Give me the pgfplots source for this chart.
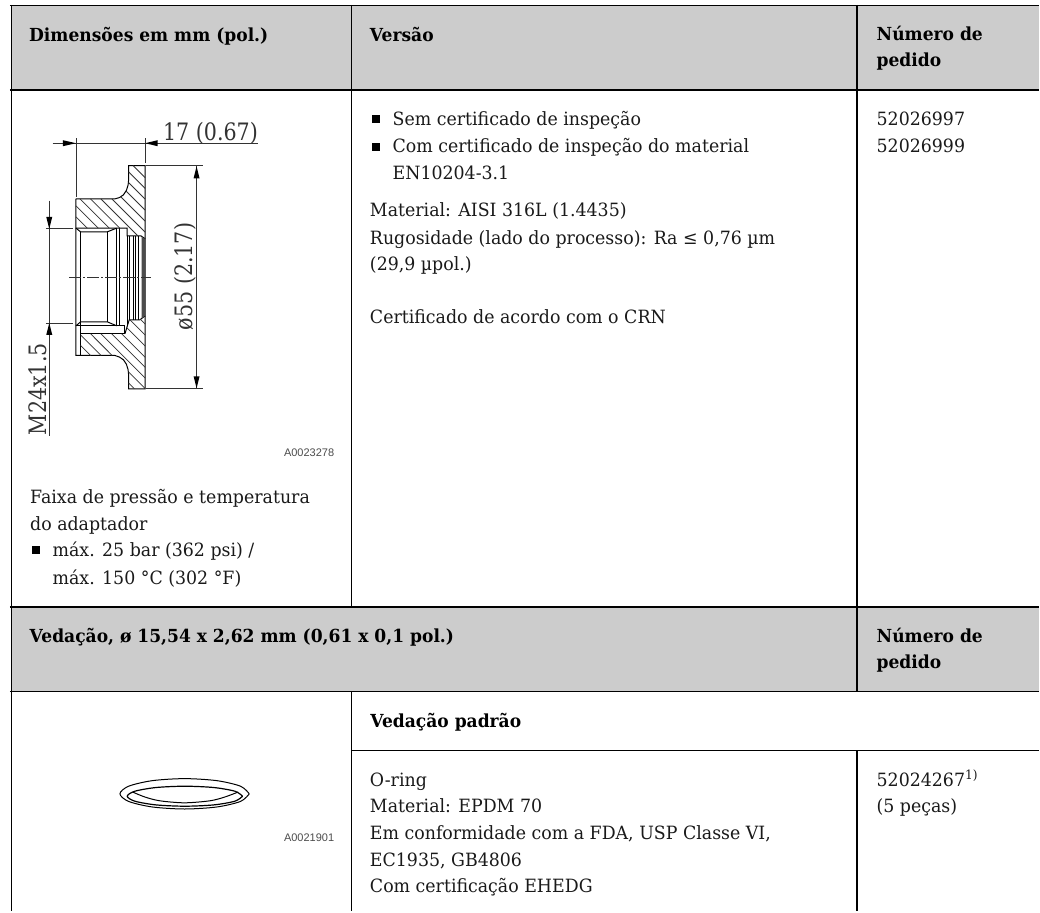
\documentclass[border=0pt]{standalone}
\usepackage{pgfplots}
\pgfplotsset{compat=1.18}
\usepackage{fontspec}
\setmainfont[FakeStretch=0.95]{DejaVu Serif}
\newfontfamily\dimf[FakeStretch=0.86]{DejaVu Serif}
\newfontfamily\smallsans{Liberation Sans}
\definecolor{band}{HTML}{CCCCCC}
\definecolor{ink}{HTML}{1A1A1A}
\newcommand{\T}[3]{\node[anchor=base west,inner sep=0pt,text=ink,font=\fontsize{18.3}{21}\selectfont] at (axis cs:#1,#2) {#3};}
\newcommand{\B}[3]{\node[anchor=base west,inner sep=0pt,text=black,font=\fontsize{18.0}{21}\selectfont\bfseries] at (axis cs:#1,#2) {#3};}
\newcommand{\Ln}[1]{\addplot[black,line width=1pt] coordinates {#1};}
\newcommand{\Tb}[1]{\addplot[black,line width=1.3pt] coordinates {#1};}
\newcommand{\Dm}[1]{\addplot[black!80,line width=0.8pt] coordinates {#1};}
\newcommand{\Ar}[1]{\addplot[fill=black,draw=none] coordinates {#1} --cycle;}
\begin{document}
\begin{tikzpicture}
\begin{axis}[
  scale only axis, width=1040pt, height=912pt,
  xmin=0, xmax=1040, ymin=0, ymax=912, y dir=reverse,
  hide axis, clip=false]
% page background (keeps the whole page in the picture)
\addplot[fill=white,draw=none] coordinates {(0,0)(1040,0)(1040,912)(0,912)} --cycle;
% grey bands
\addplot[fill=band,draw=none] coordinates {(11.7,5.5)(1040,5.5)(1040,90)(11.7,90)} --cycle;
\addplot[fill=band,draw=none] coordinates {(11.7,607)(1040,607)(1040,692)(11.7,692)} --cycle;
% table rules
\Tb{(10,5.5)(1040,5.5)}
\Tb{(10,90)(1040,90)}
\Tb{(10,607.3)(1040,607.3)}
\Tb{(10,692)(1040,692)}
\Tb{(351.5,751)(1040,751)}
\Tb{(11.7,5)(11.7,912)}
\Tb{(351.5,5)(351.5,607)}
\Tb{(351.5,692)(351.5,912)}
\Tb{(857.5,5)(857.5,692)}
\Tb{(857.5,751)(857.5,912)}
% header text
\B{29}{41.7}{Dimensões em mm (pol.)}
\B{370}{41.7}{Versão}
\B{877}{40.7}{Número de}
\B{877}{66.7}{pedido}
% version column
\addplot[only marks,mark=square*,mark size=3.4pt,black] coordinates {(376,119)(376,146.5)(35.5,550)};
\T{392.7}{126}{Sem certificado de inspeção}
\T{392.7}{152.7}{Com certificado de inspeção do material}
\T{392.7}{180}{EN10204-3.1}
\T{370}{216.7}{Material: AISI 316L (1.4435)}
\T{370}{244.3}{Rugosidade (lado do processo): Ra ≤ 0,76 µm}
\T{370}{270.7}{(29,9 µpol.)}
\T{370}{324}{Certificado de acordo com o CRN}
\T{877}{126}{52026997}
\T{877}{152.7}{52026999}
% left lower text
\T{30}{504}{Faixa de pressão e temperatura}
\T{30}{530.7}{do adaptador}
\T{52.5}{557.3}{máx. 25 bar (362 psi) /}
\T{52.5}{585}{máx. 150 °C (302 °F)}
% band 2
\B{29.5}{643.3}{Vedação, ø 15,54 x 2,62 mm (0,61 x 0,1 pol.)}
\B{877}{643}{Número de}
\B{877}{669}{pedido}
\B{370.4}{727.7}{Vedação padrão}
\T{370}{786.7}{O-ring}
\T{370}{813.3}{Material: EPDM 70}
\T{370}{840}{Em conformidade com a FDA, USP Classe VI,}
\T{370}{867.3}{EC1935, GB4806}
\T{370}{893.3}{Com certificação EHEDG}
\T{877}{786.7}{52024267\textsuperscript{1)}}
\T{877}{813.3}{(5 peças)}
% drawing codes
\node[anchor=base west,inner sep=0pt,text=black!70,font=\smallsans\fontsize{11}{12}\selectfont] at (axis cs:284,456.8) {A0023278};
\node[anchor=base west,inner sep=0pt,text=black!70,font=\smallsans\fontsize{11}{12}\selectfont] at (axis cs:284,842.3) {A0021901};
% dimension text
\node[anchor=base west,inner sep=0pt,text=black!80,font=\dimf\fontsize{24}{28}\selectfont] at (axis cs:163,140.5) {17 (0.67)};
\node[rotate=90,anchor=base,inner sep=0pt,text=black!80,font=\dimf\fontsize{24}{28}\selectfont] at (axis cs:192.7,276.7) {ø55 (2.17)};
\node[rotate=90,anchor=base west,inner sep=0pt,text=black!80,font=\dimf\fontsize{24}{28}\selectfont] at (axis cs:47,435.5) {M24x1.5};
% flange outline
\Ln{(76,199)(115,199)(119.5,197.7)(123.5,195)(126.5,190.5)(128.2,185)(128.7,180)(128.7,165.7)(145.3,165.7)(145.3,389)(128.7,389)(128.7,375)(128.2,370)(126.5,364.5)(123.5,360)(119.5,357.3)(115,355.7)(76,355.7)(76,199)}
\Ln{(76,228.3)(127.3,228.3)(127.3,236)(141,236)(145.3,239)}
\Ln{(76,228.3)(80.7,232)(107.3,232)(116.7,228.3)}
\Ln{(80.7,232)(80.7,355.7)}
\Ln{(76,326)(125,326)(125,334)(80.7,334)}
\Ln{(76,326)(80.7,322)(107.3,322)(116.7,326)}
\Ln{(125,334)(129.3,320)(140,320)(145.3,316)}
\Ln{(107.3,232)(107.3,322)}
\Ln{(116.7,228.3)(116.7,326)}
\Ln{(119.3,228.3)(119.3,326)}
\Ln{(127.3,236)(127.3,326)}
\Ln{(129.3,236)(129.3,320)}
\Ln{(133.3,236)(133.3,320)}
\Ln{(136,236)(136,320)}
\Ln{(138.5,236)(138.5,320)}
\addplot[fill=black!70,draw=none] coordinates {(141.7,237)(145.3,239)(145.3,316)(141.7,318.5)} --cycle;
% hatching upper
\Dm{(133.2,165.7)(145.3,177.8)}
\Dm{(128.7,172)(145.3,188.6)}
\Dm{(128.7,182.7)(145.3,199.3)}
\Dm{(126,191)(145.3,210.3)}
\Dm{(120.5,196.5)(145.3,221.3)}
\Dm{(112,199)(145.3,232.3)}
\Dm{(101,199)(138,236)}
\Dm{(90.5,199)(119.8,228.3)}
\Dm{(80,199)(109.3,228.3)}
\Dm{(76,206)(98.3,228.3)}
\Dm{(76,217)(87.3,228.3)}
% hatching lower
\Dm{(140.5,319.5)(145.3,324.3)}
\Dm{(130,320)(145.3,335.3)}
\Dm{(127,328)(145.3,346.3)}
\Dm{(121.7,334)(145.3,357.6)}
\Dm{(111.7,334)(145.3,367.6)}
\Dm{(101,334)(145.3,378.3)}
\Dm{(90.7,334)(112.2,355.7)}
\Dm{(128.4,371.9)(145.3,388.8)}
\Dm{(81,335.5)(101.2,355.7)}
\Dm{(128.7,383.2)(134.5,389)}
\Dm{(80.7,345.7)(90.7,355.7)}
% centre line
\addplot[black!80,line width=0.6pt,dash pattern=on 12pt off 2pt on 2pt off 2pt] coordinates {(69.3,277.7)(150.7,277.7)};
% dimension lines
\Dm{(52.7,143.3)(258,143.3)}
\Dm{(76,138.3)(76,196.7)}
\Dm{(145.3,138.3)(145.3,163)}
\Ar{(63,140.3)(76,143.3)(63,146.3)}
\Ar{(157.7,140.3)(145.3,143.3)(157.7,146.3)}
\Dm{(196.7,165.7)(196.7,389)}
\Dm{(146.5,165.7)(202.7,165.7)}
\Dm{(146.5,389)(202.7,389)}
\Ar{(193.7,178.5)(196.7,166.5)(199.7,178.5)}
\Ar{(193.7,376.5)(196.7,388.5)(199.7,376.5)}
\Dm{(49.3,200.7)(49.3,436.7)}
\Dm{(46,229)(72.7,229)}
\Dm{(46,323.3)(72.7,323.3)}
\Ar{(46.3,217)(49.3,229)(52.3,217)}
\Ar{(46.3,335)(49.3,323.3)(52.3,335)}
% O-ring
\addplot[black,line width=1pt,smooth] coordinates {(249.4,794.3)(240.7,786.7)(217.05,781.14)(184.7,779.1)(152.35,781.14)(128.7,786.7)(120,794.3)(128.7,801.9)(152.35,807.46)(184.7,809.5)(217.05,807.46)(240.7,801.9)(249.4,794.3)};
\addplot[black,line width=1.2pt,smooth] coordinates {(242.7,796.7)(235,791.7)(213.85,788)(185,786.7)(156.15,788)(135,791.7)(127.3,796.7)(135,801.7)(156.15,805.4)(185,806.7)(213.85,805.4)(235,801.7)(242.7,796.7)};
\addplot[black,line width=1pt,smooth] coordinates {(132.7,792.5)(145,797.5)(160,801.3)(184.5,803.3)(210,801.3)(225,797.5)(238.3,792.5)};
\end{axis}
\end{tikzpicture}
\end{document}
